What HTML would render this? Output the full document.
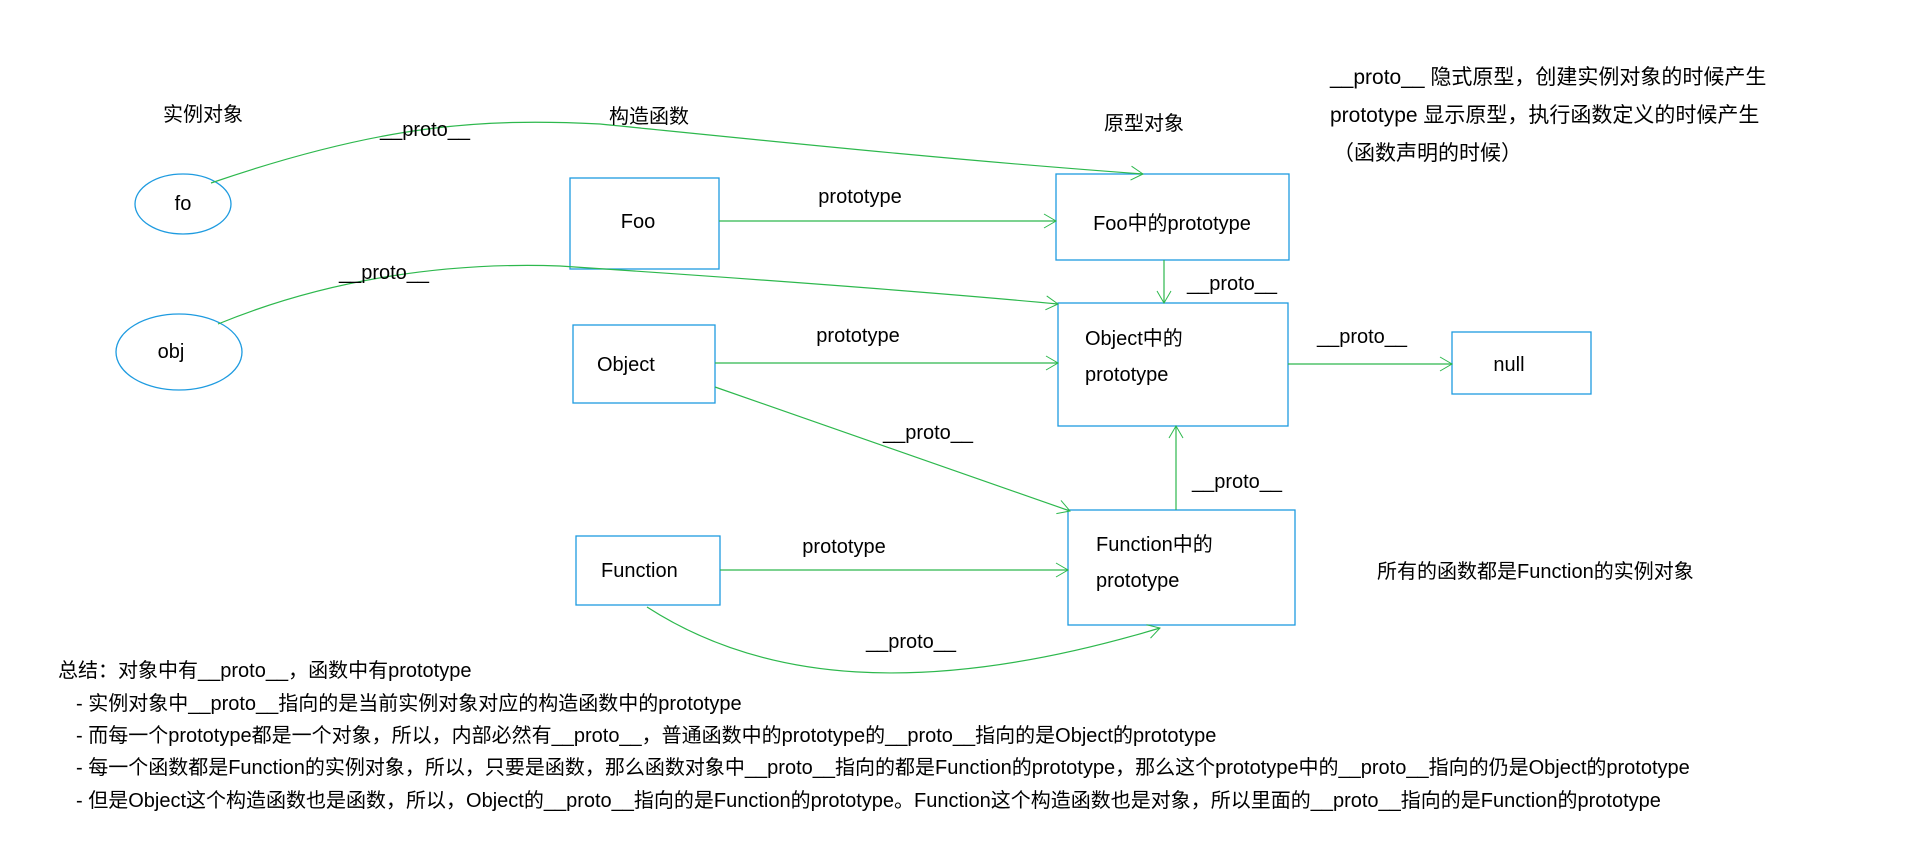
<!DOCTYPE html>
<html><head><meta charset="utf-8"><style>
html,body{margin:0;padding:0;background:#fff;}
svg{display:block;}
text{font-family:"Liberation Sans","Noto Sans CJK SC",sans-serif;font-size:20px;fill:#000;}
</style></head><body>
<svg width="1913" height="853" viewBox="0 0 1913 853" xmlns="http://www.w3.org/2000/svg">
<defs>
<marker id="a" markerWidth="16" markerHeight="16" refX="14" refY="8" orient="auto" markerUnits="userSpaceOnUse">
<polyline points="2,1 14,8 2,15" fill="none" stroke="#2db84d" stroke-width="1"/>
</marker>
</defs>
<g fill="none" stroke="#1e9be0" stroke-width="1.3">
<ellipse cx="183" cy="204" rx="48" ry="30"/>
<ellipse cx="179" cy="352" rx="63" ry="38"/>
<rect x="570" y="178" width="149" height="91"/>
<rect x="1056" y="174" width="233" height="86"/>
<rect x="573" y="325" width="142" height="78"/>
<rect x="1058" y="303" width="230" height="123"/>
<rect x="1452" y="332" width="139" height="62"/>
<rect x="576" y="536" width="144" height="69"/>
<rect x="1068" y="510" width="227" height="115"/>
</g>
<g fill="none" stroke="#2db84d" stroke-width="1.2" marker-end="url(#a)">
<path d="M211,183 C380,125 480,118 600,124 C760,140 950,160 1143,174"/>
<path d="M719,221 L1056,221"/>
<path d="M1164,260 L1164,303"/>
<path d="M218,324 C330,278 450,262 560,266 C740,278 930,292 1058,304"/>
<path d="M715,363 L1058,363"/>
<path d="M1288,364 L1452,364"/>
<path d="M715,387 L1070,511"/>
<path d="M1176,510 L1176,426"/>
<path d="M720,570 L1068,570"/>
<path d="M647,607 C760,680 920,700 1160,628"/>
</g>
<text x="163" y="121">实例对象</text>
<text x="609" y="123">构造函数</text>
<text x="1104" y="130">原型对象</text>
<text x="1330" y="84" style="font-size:21px">__proto__  隐式原型，创建实例对象的时候产生</text>
<text x="1330" y="122" style="font-size:21px">prototype 显示原型，执行函数定义的时候产生</text>
<text x="1333" y="160" style="font-size:21px">（函数声明的时候）</text>
<text x="183" y="210" text-anchor="middle">fo</text>
<text x="171" y="358" text-anchor="middle">obj</text>
<text x="638" y="228" text-anchor="middle">Foo</text>
<text x="1172" y="230" text-anchor="middle">Foo中的prototype</text>
<text x="597" y="371">Object</text>
<text x="1085" y="345">Object中的</text>
<text x="1085" y="381">prototype</text>
<text x="1509" y="371" text-anchor="middle">null</text>
<text x="601" y="577">Function</text>
<text x="1096" y="551">Function中的</text>
<text x="1096" y="587">prototype</text>
<text x="1377" y="578">所有的函数都是Function的实例对象</text>
<text x="425" y="136" text-anchor="middle">__proto__</text>
<text x="860" y="203" text-anchor="middle">prototype</text>
<text x="1232" y="290" text-anchor="middle">__proto__</text>
<text x="384" y="279" text-anchor="middle">__proto__</text>
<text x="858" y="342" text-anchor="middle">prototype</text>
<text x="1362" y="343" text-anchor="middle">__proto__</text>
<text x="928" y="439" text-anchor="middle">__proto__</text>
<text x="1237" y="488" text-anchor="middle">__proto__</text>
<text x="844" y="553" text-anchor="middle">prototype</text>
<text x="911" y="648" text-anchor="middle">__proto__</text>
<text x="58" y="677">总结：对象中有__proto__，函数中有prototype</text>
<text x="76" y="710">- 实例对象中__proto__指向的是当前实例对象对应的构造函数中的prototype</text>
<text x="76" y="742">- 而每一个prototype都是一个对象，所以，内部必然有__proto__，普通函数中的prototype的__proto__指向的是Object的prototype</text>
<text x="76" y="774">- 每一个函数都是Function的实例对象，所以，只要是函数，那么函数对象中__proto__指向的都是Function的prototype，那么这个prototype中的__proto__指向的仍是Object的prototype</text>
<text x="76" y="807">- 但是Object这个构造函数也是函数，所以，Object的__proto__指向的是Function的prototype。Function这个构造函数也是对象，所以里面的__proto__指向的是Function的prototype</text>
</svg>
</body></html>
